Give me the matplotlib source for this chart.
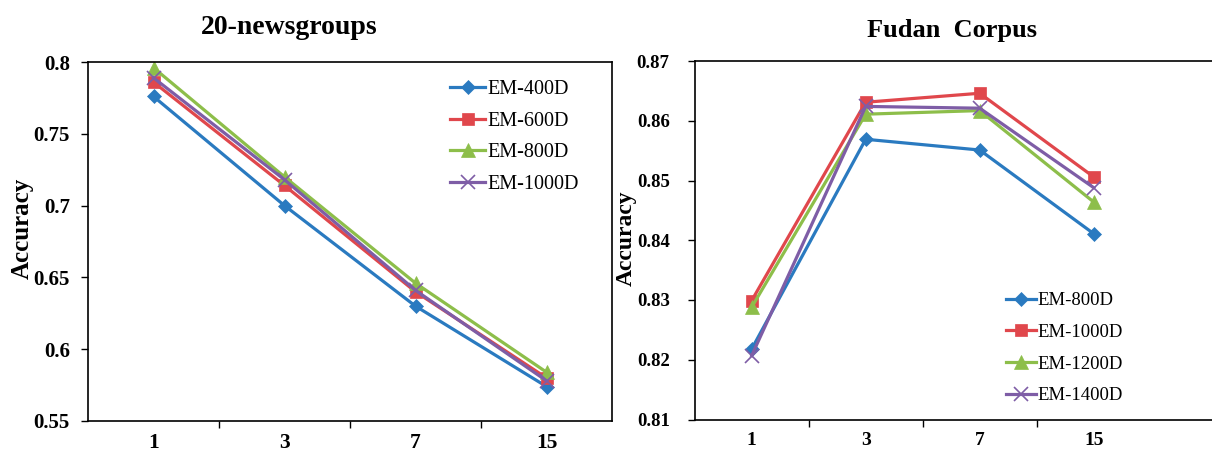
"""
EM dimension comparison: 20-newsgroups and Fudan Corpus
"""

import matplotlib
matplotlib.use("Agg")
import matplotlib.pyplot as plt

# data
windows = ["1", "3", "7", "15"]

news_labels = ["EM-400D", "EM-600D", "EM-800D", "EM-1000D"]
news_400 = [0.776, 0.700, 0.630, 0.574]
news_600 = [0.786, 0.714, 0.640, 0.580]
news_800 = [0.796, 0.720, 0.646, 0.584]
news_1000 = [0.789, 0.718, 0.641, 0.578]

fudan_labels = ["EM-800D", "EM-1000D", "EM-1200D", "EM-1400D"]
fudan_800 = [0.8218, 0.8569, 0.8551, 0.8411]
fudan_1000 = [0.8299, 0.8631, 0.8646, 0.8506]
fudan_1200 = [0.8288, 0.8611, 0.8617, 0.8464]
fudan_1400 = [0.8207, 0.8624, 0.8621, 0.8488]

colors = ["#2A7AC0", "#E0474C", "#8DBE4A", "#7E5DA6"]
markers = [("D", 7), ("s", 9), ("^", 10), ("x", 9.5)]

plt.rcParams["font.family"] = ["Liberation Serif", "DejaVu Serif"]

W, H = 1212, 453
fig = plt.figure(figsize=(W / 100, H / 100), dpi=100)


def px_axes(left, top, right, bottom):
    return fig.add_axes([left / W, 1 - bottom / H, (right - left) / W, (bottom - top) / H])


def draw(ax, series, labels, ylim, yticks, ylabels, xlim, ypad, fs):
    x = range(len(windows))
    for ys, lab, c, (m, ms) in zip(series, labels, colors, markers):
        ax.plot(x, ys, color=c, lw=2.3, marker=m, markersize=ms,
                markeredgewidth=1.2 if m == "x" else 0.5,
                markeredgecolor=c, label=lab)
    ax.set_ylim(*ylim)
    ax.set_xlim(*xlim)
    ax.set_yticks(yticks)
    ax.set_yticklabels(ylabels, fontweight="bold", fontsize=fs)
    ax.set_xticks(list(x))
    ax.set_xticklabels(windows, fontweight="bold", fontsize=fs + 0.5)
    ax.set_xticks([0.5, 1.5, 2.5], minor=True)
    ax.tick_params(axis="x", which="major", length=0, pad=9)
    ax.tick_params(axis="x", which="minor", length=5, direction="out", width=1)
    ax.tick_params(axis="y", length=5, direction="out", width=1, pad=ypad)
    for s in ax.spines.values():
        s.set_linewidth(1.2)


ax1 = px_axes(88, 62, 612, 421)
draw(ax1, [news_400, news_600, news_800, news_1000], news_labels,
     (0.55, 0.8), [0.55, 0.6, 0.65, 0.7, 0.75, 0.8],
     ["0.55", "0.6", "0.65", "0.7", "0.75", "0.8"], (-0.5, 3.5), 8, 15)
ax1.legend(loc="upper left", bbox_to_anchor=(450 / W, 1 - 80 / H),
           bbox_transform=fig.transFigure, frameon=False, fontsize=14.5,
           borderpad=0, borderaxespad=0, handlelength=1.75,
           handletextpad=0.1, labelspacing=0.62)

ax2 = px_axes(694.7, 61, 1250, 419.5)
draw(ax2, [fudan_800, fudan_1000, fudan_1200, fudan_1400], fudan_labels,
     (0.81, 0.87), [0.81, 0.82, 0.83, 0.84, 0.85, 0.86, 0.87],
     ["0.81", "0.82", "0.83", "0.84", "0.85", "0.86", "0.87"],
     (-0.5, 3.5 + (1250 - 1150.7) / 114), 13, 13.5)
ax2.legend(loc="upper left", bbox_to_anchor=(1006 / W, 1 - 292 / H),
           bbox_transform=fig.transFigure, frameon=False, fontsize=13.5,
           borderpad=0, borderaxespad=0, handlelength=1.6,
           handletextpad=0.1, labelspacing=0.78)

fig.text(289 / W, 1 - 27 / H, "20-newsgroups", ha="center", va="center",
         fontsize=20, fontweight="bold")
fig.text(952 / W, 1 - 30 / H, "Fudan  Corpus", ha="center", va="center",
         fontsize=19, fontweight="bold")
fig.text(22 / W, 1 - 228 / H, "Accuracy", ha="center", va="center",
         rotation=90, fontsize=18, fontweight="bold")
fig.text(626 / W, 1 - 238 / H, "Accuracy", ha="center", va="center",
         rotation=90, fontsize=17, fontweight="bold")

fig.savefig("out.png", dpi=100)
